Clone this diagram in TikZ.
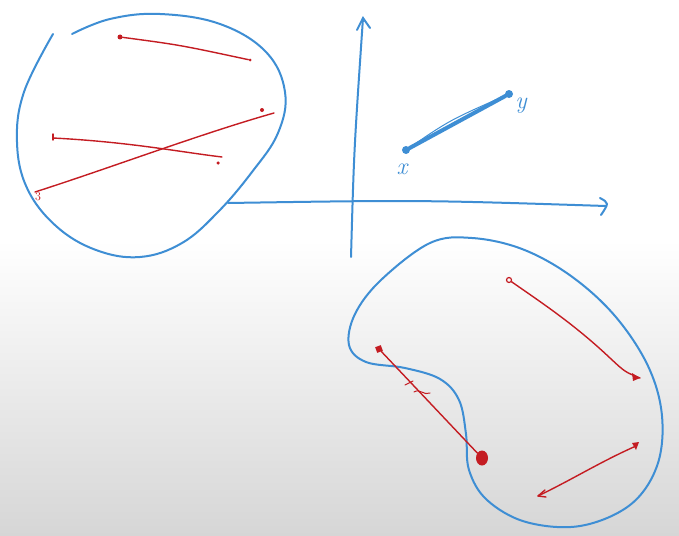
\documentclass[tikz,border=0pt]{standalone}
\usetikzlibrary{calc,shapes.geometric}
\definecolor{penblue}{RGB}{62,142,212}
\definecolor{penred}{RGB}{196,28,34}
\tikzset{
  blobline/.style={penblue,line width=2pt,line cap=round,line join=round},
  axisline/.style={penblue,line width=2pt,line cap=round},
  segline/.style={penred,line width=1.4pt,line cap=round},
  enddot/.style={circle,fill=penred,inner sep=0pt,minimum size=5pt},
  penlabel/.style={font=\fontsize{24}{24}\selectfont\itshape,text=penblue,inner sep=0pt}
}
\begin{document}
\begin{tikzpicture}[x=1pt,y=-1pt]
\useasboundingbox (0,0) rectangle (679,535);
\fill[white] (0,0) rectangle (679,240);
\shade[top color=white,bottom color=black!16] (0,240) rectangle (679,535);

% left cluster
\draw[blobline] plot[smooth,tension=0.65] coordinates {(72,34) (110,19) (160,14) (220,24) (266,52) (285,92) (278,133) (252,172) (218,212) (182,243) (140,257) (96,250) (56,226) (27,188) (17,142) (24,92) (53,34)};
\node[enddot] (tA) at (120,37) {};
\node[enddot,minimum size=3pt] (tB) at (250,60) {};
\draw[segline] (tA) .. controls (180,45) .. (tB);
\coordinate (oA) at (53,138);
\coordinate (oB) at (222,157);
\draw[segline] (oA) .. controls (130,142) and (180,152) .. (oB);
\draw[segline] (oA) ++(0,-4) -- ++(0,6);
\node[enddot,minimum size=3.5pt] (oDot) at (218,163) {};
\coordinate (wA) at (35,192);
\coordinate (wB) at (274,113);
\draw[segline] (wA) .. controls (110,168) and (200,134) .. (wB);
\node[enddot,minimum size=4pt] (wDot) at (262,110) {};
\node[text=penred,font=\fontsize{12}{12}\selectfont,inner sep=0pt] (wLab) at (38,197) {3};

% axes
\coordinate (vBot) at (351,257);
\coordinate (vTop) at (363,18);
\draw[axisline] (vBot) .. controls (354,150) .. (vTop);
\draw[axisline] ($(vTop)+(-6,12)$) -- (vTop) -- ($(vTop)+(7,10)$);
\coordinate (hL) at (228,203);
\coordinate (hR) at (606,206);
\draw[axisline] (hL) .. controls (420,200) .. (hR);
\draw[axisline] ($(hR)+(-6,-8)$) .. controls ($(hR)+(3,-3)$) .. ($(hR)+(-5,9)$);

% pair
\node[circle,fill=penblue,inner sep=0pt,minimum size=8pt] (px) at (406,150) {};
\node[circle,fill=penblue,inner sep=0pt,minimum size=8pt] (py) at (509,94) {};
\draw[penblue,line width=4pt,line cap=round] (px) -- (py);
\draw[penblue,line width=1pt] (px) .. controls (450,120) .. (py);
\node[penlabel] (xlab) at (402,169) {x};
\node[penlabel] (ylab) at (521,106) {y};

% right cluster
\draw[blobline] plot[smooth cycle,tension=0.6] coordinates {(430,243) (472,238) (522,249) (571,276) (615,316) (648,366) (662,416) (657,466) (630,505) (580,526) (526,522) (487,500) (469,470) (466,434) (459,400) (440,379) (405,368) (366,362) (349,345) (355,314) (381,280)};
\node[draw=penred,circle,line width=1.2pt,inner sep=0pt,minimum size=5pt] (rA) at (509,280) {};
\coordinate (rB) at (640,378);
\draw[segline] (rA) .. controls (545,305) and (575,325) .. (610,358) .. controls (625,372) .. (rB);
\fill[penred] (rB) -- ++(-8,-5) -- ++(1,8) -- cycle;
\node[rectangle,fill=penred,inner sep=0pt,minimum size=6pt,rotate=20] (kA) at (379,349) {};
\node[ellipse,fill=penred,inner sep=0pt,minimum width=12pt,minimum height=15pt] (kB) at (482,458) {};
\draw[segline] (kA) -- (kB);
\draw[penred,line width=1pt,line cap=round] (405,385) -- (413,381) (414,392) .. controls (420,388) and (424,396) .. (430,393);
\coordinate (bA) at (636,446);
\coordinate (bB) at (538,496);
\draw[segline] (bA) .. controls (600,462) and (575,478) .. (bB);
\fill[penred] (bA) ++(-4,-3) -- ++(7,-1) -- ++(-3,8) -- cycle;
\draw[segline] (bB) -- ++(7,-6) (bB) -- ++(8,1);
\end{tikzpicture}
\end{document}
